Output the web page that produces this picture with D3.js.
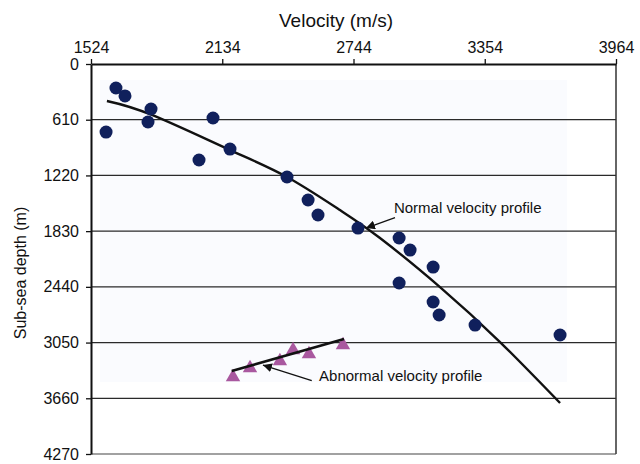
<!DOCTYPE html>
<html>
<head>
<meta charset="utf-8">
<script src="https://cdn.jsdelivr.net/npm/d3@7"></script>
<style>
  html, body { margin: 0; padding: 0; background: #fff; }
  svg { display: block; font-family: "Liberation Sans", Arial, Helvetica, sans-serif; }
</style>
</head>
<body>
<svg id="chart" width="640" height="464"></svg>
<script>
// ---- data ----
const velocityTicks = [1524, 2134, 2744, 3354, 3964];
const depthTicks = [0, 610, 1220, 1830, 2440, 3050, 3660, 4270];

// measured points (velocity m/s, depth m)
const normalVelocity = [1640, 1682, 1594, 1803, 1789, 2091, 2026, 2170, 2435, 2533, 2579, 2765, 2956, 3007, 3114, 2956, 3114, 3142, 3309, 3704];
const normalDepth    = [263, 350, 745, 493, 635, 591, 1051, 931, 1237, 1489, 1653, 1796, 1905, 2037, 2223, 2398, 2606, 2748, 2858, 2967];

const abnormalVelocity = [2184, 2263, 2402, 2463, 2537, 2695];
const abnormalDepth    = [3427, 3329, 3252, 3132, 3176, 3077];

// trend lines
const normalTrendVelocity = [1598, 1807, 2170, 2435, 2681, 2867, 3146, 3425, 3704];
const normalTrendDepth    = [405, 558, 942, 1237, 1599, 1905, 2442, 3044, 3712];
const abnormalTrendVelocity = [2178, 2700];
const abnormalTrendDepth    = [3361, 3011];

// annotations (label text, label anchor, arrow tail -> arrow tip) in data units
const annotationLabels = ["Normal velocity profile", "Abnormal velocity profile"];
const annotationLabelVelocity = [2932, 2584];
const annotationLabelDepth = [1635, 3470];
const arrowTailVelocity = [2937, 2550];
const arrowTailDepth = [1681, 3466];
const arrowTipVelocity = [2802, 2323];
const arrowTipDepth = [1796, 3296];

// ---- drawing ----
const svg = d3.select("#chart");
const x = d3.scaleLinear().domain([1524, 3964]).range([91, 616]);
const y = d3.scaleLinear().domain([0, 4270]).range([64, 454]);

// faint plot-area tint
svg.append("rect")
  .attr("x", x(1524) + 9).attr("y", y(0) + 16)
  .attr("width", 467).attr("height", 302)
  .attr("fill", "#fafbfe");

// gridlines
svg.append("g").selectAll("line")
  .data(depthTicks.slice(1, -1))
  .join("line")
  .attr("x1", x(1524)).attr("x2", x(3964))
  .attr("y1", d => y(d)).attr("y2", d => y(d))
  .attr("stroke", "#2a2a2a").attr("stroke-width", 1.3);

// frame right & bottom
svg.append("line").attr("x1", x(3964)).attr("x2", x(3964)).attr("y1", y(0)).attr("y2", y(4270))
  .attr("stroke", "#333").attr("stroke-width", 1.5);
svg.append("line").attr("x1", x(1524)).attr("x2", x(3964)).attr("y1", y(4270)).attr("y2", y(4270))
  .attr("stroke", "#444").attr("stroke-width", 1.2);

// axes
const xAxis = svg.append("g")
  .attr("transform", `translate(0,${y(0)})`)
  .call(d3.axisTop(x).tickValues(velocityTicks).tickSize(5).tickSizeOuter(0).tickPadding(6).tickFormat(d3.format("d")));
const yAxis = svg.append("g")
  .attr("transform", `translate(${x(1524)},0)`)
  .call(d3.axisLeft(y).tickValues(depthTicks).tickSize(5).tickSizeOuter(0).tickPadding(7).tickFormat(d3.format("d")));
[xAxis, yAxis].forEach(g => {
  g.select(".domain").attr("stroke", "#111").attr("stroke-width", 2);
  g.selectAll(".tick line").attr("stroke", "#111").attr("stroke-width", 1.3);
  g.selectAll(".tick text").attr("fill", "#111").style("font-size", "16px")
    .style("font-family", '"Liberation Sans", Arial, sans-serif');
});

// axis titles
svg.append("text").attr("x", 336).attr("y", 27).attr("text-anchor", "middle")
  .style("font-size", "19px").attr("fill", "#111").text("Velocity (m/s)");
svg.append("text").attr("transform", "translate(26,273) rotate(-90)").attr("text-anchor", "middle")
  .style("font-size", "16px").attr("fill", "#111").text("Sub-sea depth (m)");

// normal trend curve
const line = d3.line().x(d => x(d[0])).y(d => y(d[1])).curve(d3.curveNatural);
svg.append("path")
  .datum(normalTrendVelocity.map((v, i) => [v, normalTrendDepth[i]]))
  .attr("d", line).attr("fill", "none").attr("stroke", "#111").attr("stroke-width", 2.4);

// normal points
svg.append("g").selectAll("circle")
  .data(normalVelocity.map((v, i) => [v, normalDepth[i]]))
  .join("circle")
  .attr("cx", d => x(d[0])).attr("cy", d => y(d[1])).attr("r", 6.5)
  .attr("fill", "#10205c");

// abnormal points
svg.append("g").selectAll("path")
  .data(abnormalVelocity.map((v, i) => [v, abnormalDepth[i]]))
  .join("path")
  .attr("d", d3.symbol(d3.symbolTriangle, 90))
  .attr("transform", d => `translate(${x(d[0])},${y(d[1])})`)
  .attr("fill", "#a9589f");

// abnormal trend line
svg.append("path")
  .datum(abnormalTrendVelocity.map((v, i) => [v, abnormalTrendDepth[i]]))
  .attr("d", d3.line().x(d => x(d[0])).y(d => y(d[1])))
  .attr("fill", "none").attr("stroke", "#111").attr("stroke-width", 2.6);

// arrows
const defs = svg.append("defs");
defs.append("marker").attr("id", "arrow").attr("viewBox", "0 0 10 10")
  .attr("refX", 10).attr("refY", 5).attr("markerWidth", 9).attr("markerHeight", 9)
  .attr("markerUnits", "userSpaceOnUse").attr("orient", "auto")
  .append("path").attr("d", "M0,0 L10,5 L0,10 Z").attr("fill", "#111");

svg.append("g").selectAll("line")
  .data(annotationLabels.map((t, i) => i))
  .join("line")
  .attr("x1", i => x(arrowTailVelocity[i])).attr("y1", i => y(arrowTailDepth[i]))
  .attr("x2", i => x(arrowTipVelocity[i])).attr("y2", i => y(arrowTipDepth[i]))
  .attr("stroke", "#111").attr("stroke-width", 1.3)
  .attr("marker-end", "url(#arrow)");

svg.append("g").selectAll("text")
  .data(annotationLabels.map((t, i) => i))
  .join("text")
  .attr("x", i => x(annotationLabelVelocity[i])).attr("y", i => y(annotationLabelDepth[i]))
  .style("font-size", "15px").attr("fill", "#111")
  .text(i => annotationLabels[i]);
</script>
</body>
</html>
